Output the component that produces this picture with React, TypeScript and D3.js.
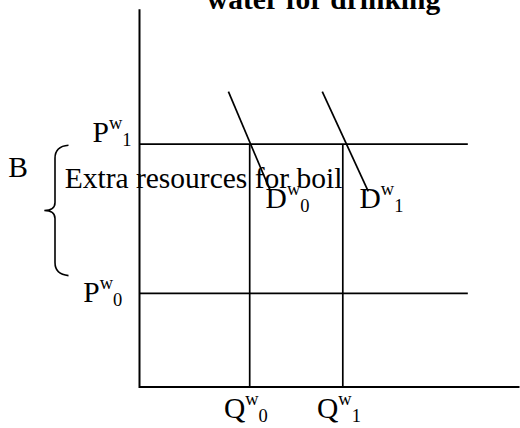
import React from "react";
import * as d3 from "d3";

// Quantities of drinking water (Q^w_0, Q^w_1)
const quantities = [2.9, 5.35];
const quantityLabels = ["0", "1"];
// Prices of drinking water (P^w_0, P^w_1)
const prices = [2.48, 6.43];
const priceLabels = ["0", "1"];
// Where the price lines stop on the quantity axis
const priceLineEnd = 8.64;
// Demand curves D^w_0 and D^w_1: x at the top and bottom ends
const demandTopX = [2.34, 4.81];
const demandBottomX = [3.45, 6.02];
const demandTopY = 7.82;
const demandBottomY = 5.18;
const demandLabels = ["0", "1"];
// Bracket "B" spans this price range
const bracketRange = [6.4, 2.95];

const W = 520;
const H = 428;
const FONT = "'Liberation Serif', 'Times New Roman', serif";
const MAIN = 29.5;
const SMALL = 18.5;

function Label({ x, y, main, sup, sub }: { x: number; y: number; main: string; sup: string; sub: string }) {
  return (
    <text x={x} y={y} fontFamily={FONT} fontSize={MAIN} fill="#000">
      {main}
      <tspan fontSize={SMALL} dy={-13}>{sup}</tspan>
      <tspan fontSize={SMALL} dy={17}>{sub}</tspan>
    </text>
  );
}

export default function App() {
  const x = d3.scaleLinear().domain([0, 10]).range([139.5, 519.5]);
  const y = d3.scaleLinear().domain([0, 10]).range([387, 9.3]);
  const line = d3.line<[number, number]>().x((d) => x(d[0])).y((d) => y(d[1]));

  const bTop = y(bracketRange[0]);
  const bBot = y(bracketRange[1]);
  const bMid = (bTop + bBot) / 2;
  const bx = 55;
  const bEnd = 68.5;
  const bTip = 44.3;
  const bracePath =
    `M ${bEnd} ${bTop} Q ${bx} ${bTop + 1} ${bx} ${bTop + 13} ` +
    `L ${bx} ${bMid - 8} Q ${bx} ${bMid} ${bTip} ${bMid} ` +
    `Q ${bx} ${bMid} ${bx} ${bMid + 8} ` +
    `L ${bx} ${bBot - 13} Q ${bx} ${bBot - 1} ${bEnd} ${bBot}`;

  return (
    <div style={{ position: "absolute", left: 0, top: 0 }}>
      <svg width={W} height={H} style={{ display: "block", background: "#fff" }}>
        <rect width={W} height={H} fill="#fff" />
        <text
          x={323.5}
          y={8.5}
          textAnchor="middle"
          fontFamily={FONT}
          fontWeight="bold"
          fontSize={MAIN}
          fill="#000"
        >
          water for drinking
        </text>

        {/* axes */}
        <path d={line([[0, 10], [0, 0], [10, 0]])!} fill="none" stroke="#000" strokeWidth={2} />

        {/* price lines */}
        {prices.map((p, i) => (
          <path key={"p" + i} d={line([[0, p], [priceLineEnd, p]])!} stroke="#000" strokeWidth={1.8} />
        ))}

        {/* quantity lines */}
        {quantities.map((q, i) => (
          <path key={"q" + i} d={line([[q, prices[1]], [q, 0]])!} stroke="#000" strokeWidth={1.7} />
        ))}

        {/* demand curves */}
        {demandTopX.map((tx, i) => (
          <path
            key={"d" + i}
            d={line([[tx, demandTopY], [demandBottomX[i], demandBottomY]])!}
            stroke="#000"
            strokeWidth={1.7}
          />
        ))}

        {/* bracket */}
        <path d={bracePath} fill="none" stroke="#000" strokeWidth={1.6} />
        <text x={8.3} y={176.7} fontFamily={FONT} fontSize={MAIN} fill="#000">B</text>
        <text x={64.7} y={187.7} fontFamily={FONT} fontSize={MAIN} fill="#000">
          Extra resources for boil
        </text>

        {/* price labels */}
        <Label x={x(0) - 56.2} y={y(prices[0]) + 8.4} main="P" sup="w" sub={priceLabels[0]} />
        <Label x={x(0) - 47} y={y(prices[1]) - 2.3} main="P" sup="w" sub={priceLabels[1]} />

        {/* quantity labels */}
        {quantities.map((q, i) => (
          <Label key={"ql" + i} x={x(q) - 25.8} y={418} main="Q" sup="w" sub={quantityLabels[i]} />
        ))}

        {/* demand labels */}
        {demandBottomX.map((bx2, i) => (
          <Label
            key={"dl" + i}
            x={x(bx2) - [5, 8.7][i]}
            y={208}
            main="D"
            sup="w"
            sub={demandLabels[i]}
          />
        ))}
      </svg>
    </div>
  );
}
